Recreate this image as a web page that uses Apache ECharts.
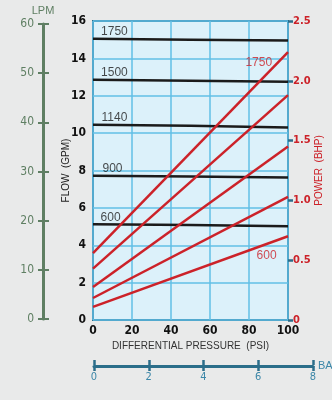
<!DOCTYPE html>
<html><head><meta charset="utf-8">
<script src="https://cdn.jsdelivr.net/npm/echarts@6/dist/echarts.min.js"></script>
<style>html,body{margin:0;padding:0;background:#e9eaea;}#c{width:332px;height:400px;}</style>
</head><body><div id="c"></div>
<script>
// ---- data ----
const psiTicks = [0, 20, 40, 60, 80, 100];
const rpmNames = ['1750', '1500', '1140', '900', '600'];
// flow (GPM) vs differential pressure (PSI) at [0, 50, 100]
const flowPsi = [0, 50, 100];
const flow1750 = [15.05, 15.0, 14.95];
const flow1500 = [12.85, 12.8, 12.75];
const flow1140 = [10.45, 10.4, 10.3];
const flow900 = [7.72, 7.68, 7.63];
const flow600 = [5.13, 5.08, 5.02];
// power (BHP) vs differential pressure (PSI) at [0, 100]
const powerPsi = [0, 100];
const power1750 = [0.56, 2.24];
const power1500 = [0.43, 1.88];
const power1140 = [0.275, 1.45];
const power900 = [0.184, 1.03];
const power600 = [0.11, 0.70];
// label anchors
const flowLabels = [[11, 15.45, '1750'], [11, 13.25, '1500'], [11, 10.85, '1140'], [10, 8.1, '900'], [9, 5.5, '600']];
const powerLabels = [[85, 2.15, '1750'], [89, 0.54, '600']];

const narrow = '"Liberation Sans Narrow","DejaVu Sans Condensed",sans-serif';
const teal = '#2b6e8a';
const grn = '#5f7f63';
const red = '#cc2229';

const flows = [flow1750, flow1500, flow1140, flow900, flow600];
const powers = [power1750, power1500, power1140, power900, power600];

const series = [];
flows.forEach((f, i) => series.push({
  type: 'line', name: 'flow ' + rpmNames[i], xAxisIndex: 0, yAxisIndex: 0,
  data: flowPsi.map((p, j) => [p, f[j]]), symbol: 'none',
  lineStyle: {color: '#1b1b1b', width: 2.5}, z: 5
}));
powers.forEach((pw, i) => series.push({
  type: 'line', name: 'power ' + rpmNames[i], xAxisIndex: 0, yAxisIndex: 1,
  data: powerPsi.map((p, j) => [p, pw[j]]), symbol: 'none',
  lineStyle: {color: red, width: 2.5}, z: 6
}));
series.push({
  type: 'scatter', xAxisIndex: 0, yAxisIndex: 0, symbolSize: 0, z: 7,
  data: flowLabels,
  label: {show: true, position: 'inside', formatter: p => p.data[2], color: '#1b1b1b', fontSize: 12, fontFamily: 'Liberation Sans, Arial, sans-serif'}
});
series.push({
  type: 'scatter', xAxisIndex: 0, yAxisIndex: 1, symbolSize: 0, z: 7,
  data: powerLabels,
  label: {show: true, position: 'inside', formatter: p => p.data[2], color: red, fontSize: 12, fontFamily: 'Liberation Sans, Arial, sans-serif'}
});
// dummy series for aux axes
series.push({type: 'line', xAxisIndex: 1, yAxisIndex: 2, data: [], silent: true});
series.push({type: 'line', xAxisIndex: 2, yAxisIndex: 4, data: [], silent: true});

const chart = echarts.init(document.getElementById('c'));
chart.setOption({
  backgroundColor: '#e9eaea',
  animation: false,
  grid: [
    {left: 93, right: 44, top: 21, bottom: 80, show: true, backgroundColor: '#dcf1fa', borderColor: teal, borderWidth: 2, containLabel: false, outerBoundsMode: 'none'},
    {left: 43, width: 1, top: 24, bottom: 81, containLabel: false, outerBoundsMode: 'none'},
    {left: 94, width: 219, top: 365, height: 1, containLabel: false, outerBoundsMode: 'none'}
  ],
  xAxis: [
    {gridIndex: 0, type: 'value', min: 0, max: 100, interval: 20,
     name: 'DIFFERENTIAL PRESSURE  (PSI)', nameLocation: 'middle', nameGap: 21, nameMoveOverlap: false,
     nameTextStyle: {color: '#333', fontSize: 10, fontFamily: 'Liberation Sans, Arial, sans-serif'},
     axisLine: {show: false}, axisTick: {show: false},
     axisLabel: {color: '#111', fontSize: 12, fontWeight: 'bold', fontFamily: narrow, margin: 5},
     splitLine: {show: true, lineStyle: {color: '#62bfe6', width: 1.5}}},
    {gridIndex: 1, type: 'value', min: 0, max: 1, show: false},
    {gridIndex: 2, type: 'value', min: 0, max: 8, interval: 2,
     name: 'BAR', nameLocation: 'end', nameGap: 5,
     nameTextStyle: {color: '#3c87a8', fontSize: 11, fontFamily: 'Liberation Sans, Arial, sans-serif', verticalAlign: 'middle'},
     axisLine: {show: true, lineStyle: {color: teal, width: 3}},
     axisTick: {show: true, length: 5, lineStyle: {color: teal, width: 2.5}},
     axisLabel: {color: '#3c87a8', fontSize: 11, fontFamily: narrow, margin: 6},
     splitLine: {show: false}},
    {gridIndex: 2, type: 'value', min: 0, max: 8, interval: 2, position: 'top',
     axisLine: {show: false}, axisLabel: {show: false},
     axisTick: {show: true, length: 5, lineStyle: {color: teal, width: 2.5}}, splitLine: {show: false}}
  ],
  yAxis: [
    {gridIndex: 0, type: 'value', min: 0, max: 16, interval: 2,
     name: 'FLOW  (GPM)', nameLocation: 'middle', nameGap: 22, nameMoveOverlap: false,
     nameTextStyle: {color: '#222', fontSize: 10, fontFamily: 'Liberation Sans, Arial, sans-serif'},
     axisLine: {show: false}, axisTick: {show: false},
     axisLabel: {color: '#111', fontSize: 12, fontWeight: 'bold', fontFamily: narrow, margin: 7},
     splitLine: {show: true, lineStyle: {color: '#62bfe6', width: 1.5}}},
    {gridIndex: 0, type: 'value', min: 0, max: 2.5, interval: 0.5, position: 'right',
     name: 'POWER  (BHP)', nameLocation: 'middle', nameGap: 26, nameRotate: 90, nameMoveOverlap: false,
     nameTextStyle: {color: red, fontSize: 10, fontFamily: 'Liberation Sans, Arial, sans-serif'},
     axisLine: {show: false},
     axisTick: {show: true, length: 5, lineStyle: {color: teal, width: 2.5}},
     axisLabel: {color: red, fontSize: 11, fontWeight: 'bold', fontFamily: narrow, margin: 5,
       formatter: v => v === 0 ? '0' : v.toFixed(1)},
     splitLine: {show: false}},
    {gridIndex: 1, type: 'value', min: 0, max: 60, interval: 10, position: 'left',
     name: 'LPM', nameLocation: 'end', nameGap: 8,
     nameTextStyle: {color: grn, fontSize: 11, fontFamily: 'Liberation Sans, Arial, sans-serif'},
     axisLine: {show: true, lineStyle: {color: grn, width: 3}},
     axisTick: {show: true, length: 5, lineStyle: {color: grn, width: 2}},
     axisLabel: {color: grn, fontSize: 12, fontFamily: narrow, margin: 9},
     splitLine: {show: false}},
    {gridIndex: 1, type: 'value', min: 0, max: 60, interval: 10, position: 'right',
     axisLine: {show: false}, axisLabel: {show: false},
     axisTick: {show: true, length: 5, lineStyle: {color: grn, width: 2}}, splitLine: {show: false}},
    {gridIndex: 2, type: 'value', min: 0, max: 1, show: false}
  ],
  series: series
});
</script></body></html>
